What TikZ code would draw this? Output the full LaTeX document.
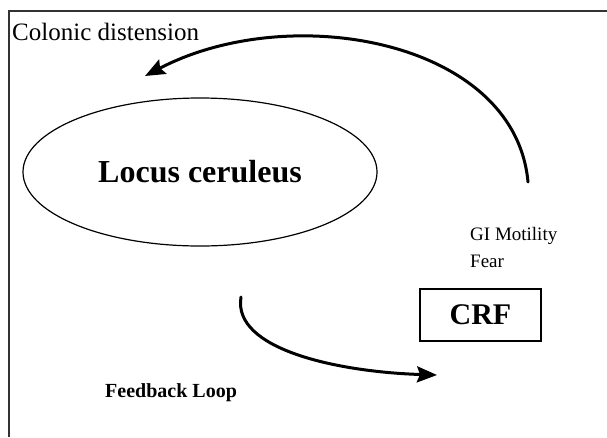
\documentclass[tikz,border=0pt]{standalone}
\usepackage{fontspec}
\setmainfont{Liberation Serif}
\usetikzlibrary{shapes.geometric, positioning, arrows.meta}
\tikzset{
    >={Stealth[length=20pt, width=16pt, inset=3pt]}, % large filled arrow heads
    bigarrow/.style={->, line width=3pt, line cap=round}, % the two curved arrows
    label/.style={inner sep=0pt, anchor=base west}, % plain text lines
}

\begin{document}
\begin{tikzpicture}[x=1pt, y=-1pt]
\useasboundingbox (0,0) rectangle (607,437);
% frame, only top and left edges show
\draw[line width=1.6pt, black!80] (607,11) -- (9,11) -- (9,437);

\node[label, font=\fontsize{25}{28}\selectfont] (colon) at (12,40) {Colonic distension};
\node[draw, ellipse, line width=1.2pt, minimum width=354pt, minimum height=148pt, inner sep=0pt,
      font=\bfseries\fontsize{32}{36}\selectfont] (lc) at (200,172) {Locus ceruleus};
\node[label, font=\fontsize{19}{22}\selectfont] (gi) at (470,240) {GI Motility};
\node[label, font=\fontsize{19}{22}\selectfont] (fear) at (470,267) {Fear};
\node[draw, line width=1.8pt, minimum width=121pt, minimum height=52pt, inner sep=0pt,
      font=\bfseries\fontsize{30}{34}\selectfont] (crf) at (480.5,315) {CRF};
\node[label, font=\bfseries\fontsize{20}{24}\selectfont] (loop) at (105,397) {Feedback Loop};

\coordinate (upA) at (528,182);
\coordinate (upB) at (145,76);
\coordinate (lowA) at (241,297);
\coordinate (lowB) at (437,375);

\draw[bigarrow] (upA) .. controls (515,40) and (290,0) .. (upB);
\draw[bigarrow] (lowA) .. controls (232,350) and (340,372) .. (lowB);
\end{tikzpicture}
\end{document}
